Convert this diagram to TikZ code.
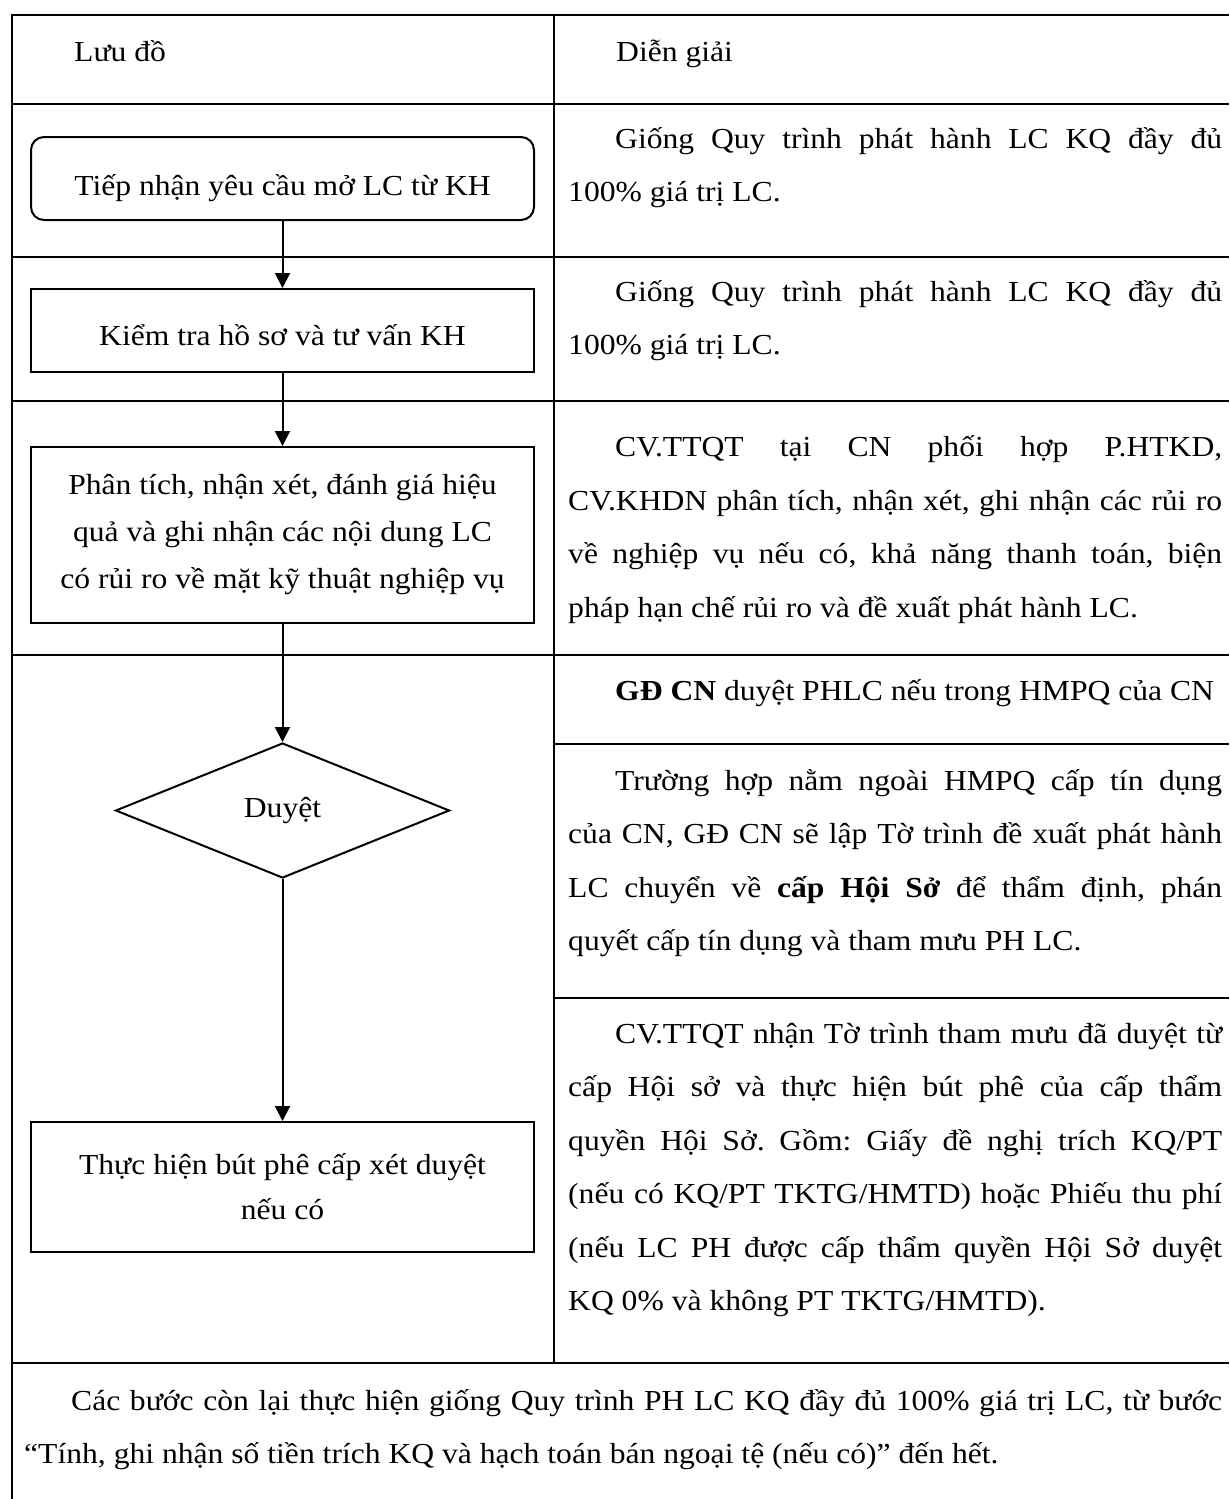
\documentclass[tikz,border=0pt]{standalone}
\usepackage{fontspec}
\setmainfont[FakeStretch=1.09]{Liberation Serif}
\usetikzlibrary{arrows.meta,shapes.geometric}
\frenchspacing

% one justified line filling the cell, and the indented first line
\newcommand\jl[1]{\makebox[\linewidth][s]{#1}}
\newcommand\fj[1]{\hspace*{47pt}\makebox[\dimexpr\linewidth-47pt\relax][s]{#1}}
\newcommand\fl[1]{\hspace*{47pt}#1}
% a text cell of the given width whose first baseline is the node's base
\newcommand\cell[2]{\begin{minipage}[t]{#1}\fontsize{29pt}{53.5pt}\selectfont #2\end{minipage}}

\begin{document}
\begin{tikzpicture}[x=1pt,y=-1pt,
  rule/.style={line width=2.8pt},
  box/.style={draw, line width=2pt, minimum width=503pt, inner sep=0pt,
    font=\fontsize{29pt}{47pt}\selectfont, align=center},
  arr/.style={line width=2pt, -{Triangle[length=15pt,width=15pt]}},
  txt/.style={inner sep=0pt, anchor=base west, font=\fontsize{29pt}{53.5pt}\selectfont}]
\useasboundingbox (0,0) rectangle (1229,1499);

% table rules
\draw[rule] (12,1499) -- (12,15) -- (1229,15);
\draw[rule] (554,15) -- (554,1363);
\draw[rule] (12,104) -- (1229,104);
\draw[rule] (12,257) -- (1229,257);
\draw[rule] (12,401) -- (1229,401);
\draw[rule] (12,655) -- (1229,655);
\draw[rule] (554,744) -- (1229,744);
\draw[rule] (554,998) -- (1229,998);
\draw[rule] (12,1363) -- (1229,1363);

% header
\node[txt] (h1) at (74,61) {Lưu đồ};
\node[txt] (h2) at (616,61) {Diễn giải};

% flowchart
\node[box, rounded corners=13pt, minimum height=83pt, text height=33pt, text depth=0pt]
  (b1) at (282.5,178.5) {Tiếp nhận yêu cầu mở LC từ KH};
\node[box, minimum height=83pt, text height=29pt, text depth=0pt]
  (b2) at (282.5,330.5) {Kiểm tra hồ sơ và tư vấn KH};
\node[box, minimum height=176pt]
  (b3) at (282.5,535) {Phân tích, nhận xét, đánh giá hiệu\\quả và ghi nhận các nội dung LC\\có rủi ro về mặt kỹ thuật nghiệp vụ};
\node[draw, line width=2pt, diamond, aspect=2.47, minimum width=334pt, minimum height=135pt,
  inner sep=0pt, font=\fontsize{29pt}{35pt}\selectfont]
  (d) at (282.5,810.5) {Duyệt};
\node[box, minimum height=130pt, font=\fontsize{29pt}{45pt}\selectfont]
  (b5) at (282.5,1187) {Thực hiện bút phê cấp xét duyệt\\nếu có};

\draw[arr] (b1) -- (b2);
\draw[arr] (b2) -- (b3);
\draw[arr] (b3) -- (d);
\draw[arr] (d) -- (b5);

% explanations
\node[txt] (e1) at (568,148) {\cell{654pt}{\fj{Giống Quy trình phát hành LC KQ đầy đủ}\\100\% giá trị LC.}};
\node[txt] (e2) at (568,301) {\cell{654pt}{\fj{Giống Quy trình phát hành LC KQ đầy đủ}\\100\% giá trị LC.}};
\node[txt] (e3) at (568,456.5) {\cell{654pt}{\fj{CV.TTQT tại CN phối hợp P.HTKD,}\\
  \jl{CV.KHDN phân tích, nhận xét, ghi nhận các rủi ro}\\
  \jl{về nghiệp vụ nếu có, khả năng thanh toán, biện}\\
  pháp hạn chế rủi ro và đề xuất phát hành LC.}};
\node[txt] (e4) at (568,700) {\cell{654pt}{\fl{\textbf{GĐ CN} duyệt PHLC nếu trong HMPQ của CN}}};
\node[txt] (e5) at (568,790) {\cell{654pt}{\fj{Trường hợp nằm ngoài HMPQ cấp tín dụng}\\
  \jl{của CN, GĐ CN sẽ lập Tờ trình đề xuất phát hành}\\
  \jl{LC chuyển về \textbf{cấp Hội Sở} để thẩm định, phán}\\
  quyết cấp tín dụng và tham mưu PH LC.}};
\node[txt] (e6) at (568,1043) {\cell{654pt}{\fj{CV.TTQT nhận Tờ trình tham mưu đã duyệt từ}\\
  \jl{cấp Hội sở và thực hiện bút phê của cấp thẩm}\\
  \jl{quyền Hội Sở. Gồm: Giấy đề nghị trích KQ/PT}\\
  \jl{(nếu có KQ/PT TKTG/HMTD) hoặc Phiếu thu phí}\\
  \jl{(nếu LC PH được cấp thẩm quyền Hội Sở duyệt}\\
  KQ 0\% và không PT TKTG/HMTD).}};
\node[txt] (e7) at (24,1410) {\cell{1198pt}{\fj{Các bước còn lại thực hiện giống Quy trình PH LC KQ đầy đủ 100\% giá trị LC, từ bước}\\
  “Tính, ghi nhận số tiền trích KQ và hạch toán bán ngoại tệ (nếu có)” đến hết.}};
\end{tikzpicture}
\end{document}
